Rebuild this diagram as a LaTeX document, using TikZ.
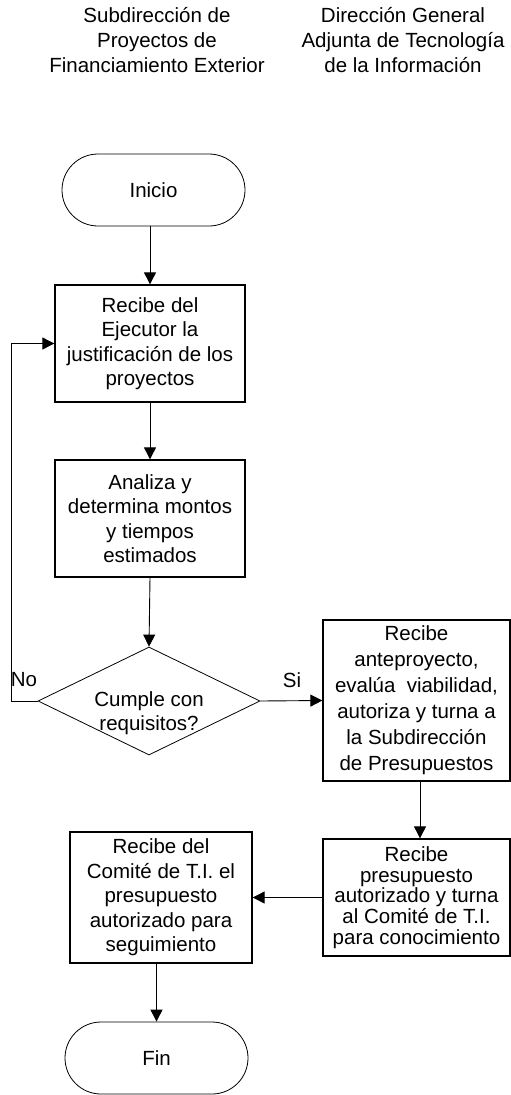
\documentclass[tikz,border=0pt]{standalone}
\usepackage{fontspec}
\setmainfont{Liberation Sans}
\usetikzlibrary{shapes.geometric,arrows.meta}
\begin{document}
\begin{tikzpicture}[x=1pt,y=-1pt,
  every node/.style={font=\fontsize{20.5}{24.5}\selectfont, align=center, inner sep=0pt},
  box/.style={draw, line width=1.3pt, minimum width=#1},
  term/.style={draw, line width=0.8pt, rounded corners=36pt, minimum width=183pt, minimum height=72pt},
  conn/.style={line width=0.9pt, -{Triangle[length=12pt,width=12pt]}},
  plain/.style={line width=0.9pt}
]
\useasboundingbox (0,0) rectangle (511,1095);
\node[font=\fontsize{20.5}{25}\selectfont] (h1) at (157,40) {Subdirección de\\Proyectos de\\Financiamiento Exterior};
\node[font=\fontsize{20.5}{25}\selectfont] (h2) at (403,40) {Dirección General\\Adjunta de Tecnología\\de la Información};

\node[term] (inicio) at (153.5,190) {Inicio};
\node[box=190pt, minimum height=117pt] (b1) at (150,343.5) {Recibe del\\Ejecutor la\\justificación de los\\proyectos};
\node[box=190pt, minimum height=117pt] (b2) at (150,518.5) {Analiza y\\determina montos\\y tiempos\\estimados};
\node[diamond, draw, line width=0.8pt, minimum width=222pt, minimum height=108pt] (d) at (149,701) {};
\node (dt) at (149,713) {Cumple con\\requisitos?};
\node[box=187pt, minimum height=161pt, font=\fontsize{20.5}{26}\selectfont] (b3) at (416.5,700.5) {Recibe\\anteproyecto,\\evalúa\ \ viabilidad,\\autoriza y turna a\\la Subdirección\\de Presupuestos};
\node[box=187pt, minimum height=117pt, font=\fontsize{20.5}{20.8}\selectfont] (b4) at (416.5,897.5) {Recibe\\presupuesto\\autorizado y turna\\al Comité de T.I.\\para conocimiento};
\node[box=182pt, minimum height=131pt] (b5) at (161,897.5) {Recibe del\\Comité de T.I. el\\presupuesto\\autorizado para\\seguimiento};
\node[term] (fin) at (156.5,1058) {Fin};

\node (no) at (24,680) {No};
\node (si) at (292,680) {Si};

\draw[conn] (inicio.south -| b1.north) -- (b1.north);
\draw[conn] (b1) -- (b2);
\draw[conn] (b2.south) -- (d.north);
\draw[conn] (d.west) -- ++(-26,0) |- (b1.west);
\draw[conn] (d.east) -- (b3.west);
\draw[conn] ([xshift=3.5pt]b3.south) -- ([xshift=3.5pt]b4.north);
\draw[conn] (b4.west) -- (b5.east);
\draw[conn] (b5.south -| fin.north) -- (fin.north);
\end{tikzpicture}
\end{document}
